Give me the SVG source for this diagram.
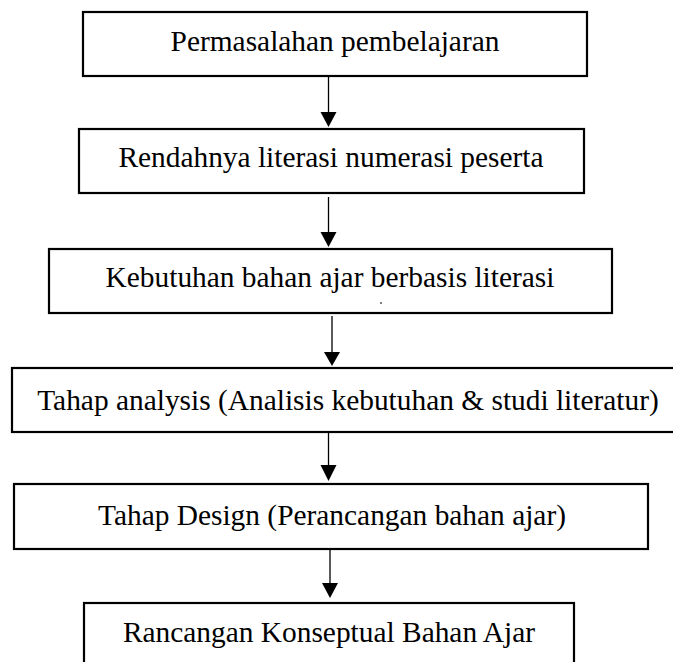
<svg xmlns="http://www.w3.org/2000/svg" width="673" height="662" viewBox="0 0 673 662">
<style>
.box{fill:#fff;stroke:#000;stroke-width:2.2}
.lbl{font-family:"Liberation Serif","Times New Roman","DejaVu Serif",serif;font-size:29.4px;fill:#000;text-anchor:middle}
.ln{stroke:#000;stroke-width:1.3;fill:none}
.hd{fill:#000}
</style>
<rect width="673" height="662" fill="#fff"/>
<g id="n1"><rect class="box" x="83" y="12" width="504" height="64"/><text class="lbl" x="335" y="51">Permasalahan pembelajaran</text></g>
<g id="n2"><rect class="box" x="79" y="129" width="505" height="64"/><text class="lbl" x="331" y="167">Rendahnya literasi numerasi peserta</text></g>
<g id="n3"><rect class="box" x="49" y="249" width="563" height="64"/><text class="lbl" x="330" y="287">Kebutuhan bahan ajar berbasis literasi</text><line x1="380" y1="303" x2="382" y2="303" stroke="#000" stroke-width="1"/></g>
<g id="n4"><rect class="box" x="12" y="368" width="680" height="64"/><text class="lbl" x="348" y="410">Tahap analysis (Analisis kebutuhan &amp; studi literatur)</text></g>
<g id="n5"><rect class="box" x="14" y="484" width="634" height="65"/><text class="lbl" x="332" y="525">Tahap Design (Perancangan bahan ajar)</text></g>
<g id="n6"><rect class="box" x="84" y="603" width="490" height="80"/><text class="lbl" x="329" y="642">Rancangan Konseptual Bahan Ajar</text></g>
<g id="connectors">
<line class="ln" x1="328.5" y1="77" x2="328.5" y2="113"/><polygon class="hd" points="320.5,112 336.5,112 328.5,127"/>
<line class="ln" x1="328.5" y1="197" x2="328.5" y2="233"/><polygon class="hd" points="320.5,232 336.5,232 328.5,247"/>
<line class="ln" x1="332" y1="316" x2="332" y2="353"/><polygon class="hd" points="324,352 340,352 332,366"/>
<line class="ln" x1="328.5" y1="433" x2="328.5" y2="466"/><polygon class="hd" points="320.5,465 336.5,465 328.5,481"/>
<line class="ln" x1="330" y1="550" x2="330" y2="584"/><polygon class="hd" points="322,583 338,583 330,598"/>
</g>
</svg>
